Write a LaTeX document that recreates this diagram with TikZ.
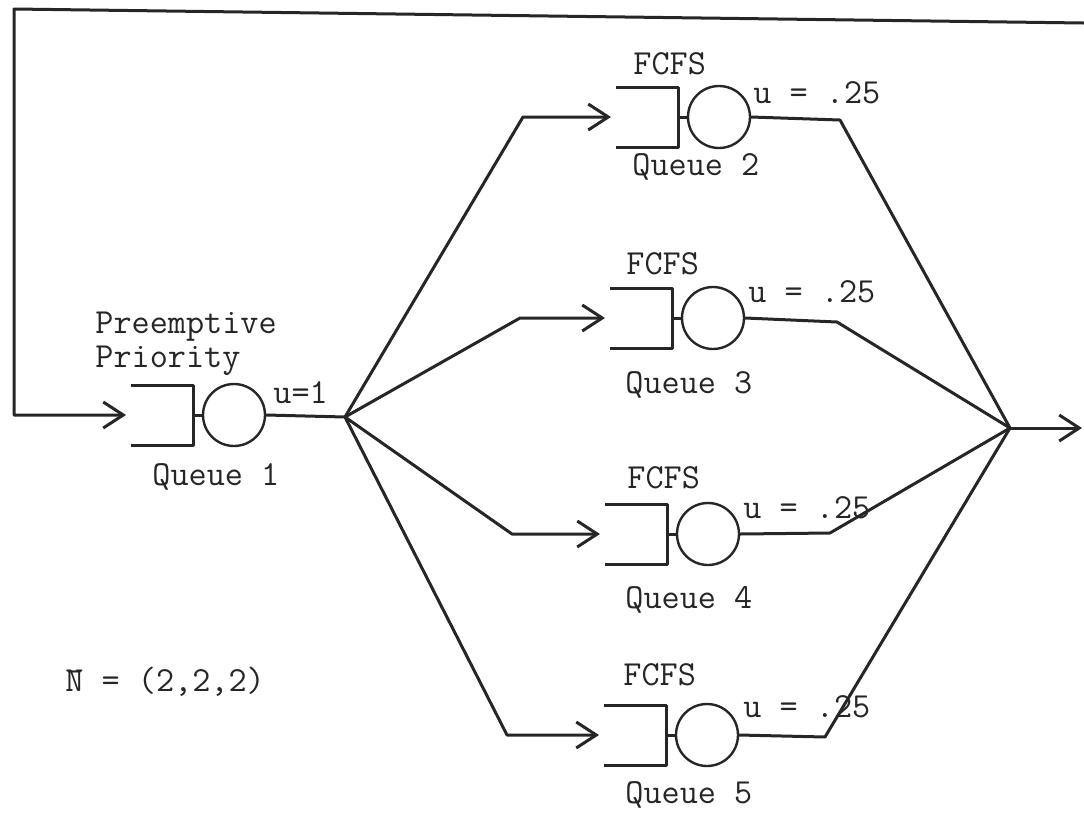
\documentclass[tikz,border=0pt]{standalone}
\usepackage{fontspec}
\usetikzlibrary{calc,arrows.meta}
\tikzset{
  every node/.style = {font=\ttfamily\fontsize{17.6}{17}\selectfont},
  wire/.style = {draw=black!85, line width=1.5pt, line join=round},
  flow/.style = {wire, -{Straight Barb[length=10pt,width=13pt]}},
  server/.style = {circle, draw=black!85, line width=1.2pt, minimum size=31pt, inner sep=0pt},
  lbl/.style = {anchor=base west, inner sep=0pt, text=black!85},
  queue/.pic = {
    \draw[wire] (-103,-30) -- (-41,-30) -- (-41,30) -- (-103,30);
    \draw[wire] (-41,0) -- (-31,0);
    \node[server] (-srv) at (0,0) {};
    \coordinate (-in) at (-108,0);
  }
}

\begin{document}
\begin{tikzpicture}[x=0.5pt, y=-0.5pt]
\useasboundingbox (0,0) rectangle (1084,816);

% the five stations
\pic (q1) at (234,415) {queue};
\pic (q2) at (719,117) {queue};
\pic (q3) at (713,318) {queue};
\pic (q4) at (708,534) {queue};
\pic (q5) at (707,735) {queue};

\coordinate (br) at (345,417);
\coordinate (mg) at (1010,428);
\coordinate (exit) at (1082,428);
\coordinate (fb) at (1084,23);
\coordinate (fbc) at (14,9);

% feedback into queue 1
\draw[flow] (fb) -- (fbc) |- (q1-in);

% split
\draw[wire] (q1-srv.east) -- (br);
\draw[flow] (br) -- (523,117) -- (q2-in);
\draw[flow] (br) -- (520,318) -- (q3-in);
\draw[flow] (br) -- (512,534) -- (q4-in);
\draw[flow] (br) -- (507,735) -- (q5-in);

% join
\draw[wire] (q2-srv.east) -- (840,120) -- (mg);
\draw[wire] (q3-srv.east) -- (837,322) -- (mg);
\draw[wire] (q4-srv.east) -- (830,533) -- (mg);
\draw[wire] (q5-srv.east) -- (825,737) -- (mg);
\draw[flow] (mg) -- (exit);

% labels
\node[lbl, align=left] (disc1) at (95,367) {Preemptive\\Priority};
\node[lbl] (u1) at (273,403) {u=1};
\node[lbl] (name1) at (152,485) {Queue 1};

\node[lbl] (disc2) at (633,74) {FCFS};
\node[lbl] (u2) at (753,103) {u = .25};
\node[lbl] (name2) at (632,175) {Queue 2};

\node[lbl] (disc3) at (626,274) {FCFS};
\node[lbl] (u3) at (748,302) {u = .25};
\node[lbl] (name3) at (625,393) {Queue 3};

\node[lbl] (disc4) at (627,488) {FCFS};
\node[lbl] (u4) at (743,518) {u = .25};
\node[lbl] (name4) at (625,608) {Queue 4};

\node[lbl] (disc5) at (623,685) {FCFS};
\node[lbl] (u5) at (743,717) {u = .25};
\node[lbl] (name5) at (625,803) {Queue 5};

\node[lbl] (pop) at (65,691) {\={N} = (2,2,2)};
\end{tikzpicture}
\end{document}
